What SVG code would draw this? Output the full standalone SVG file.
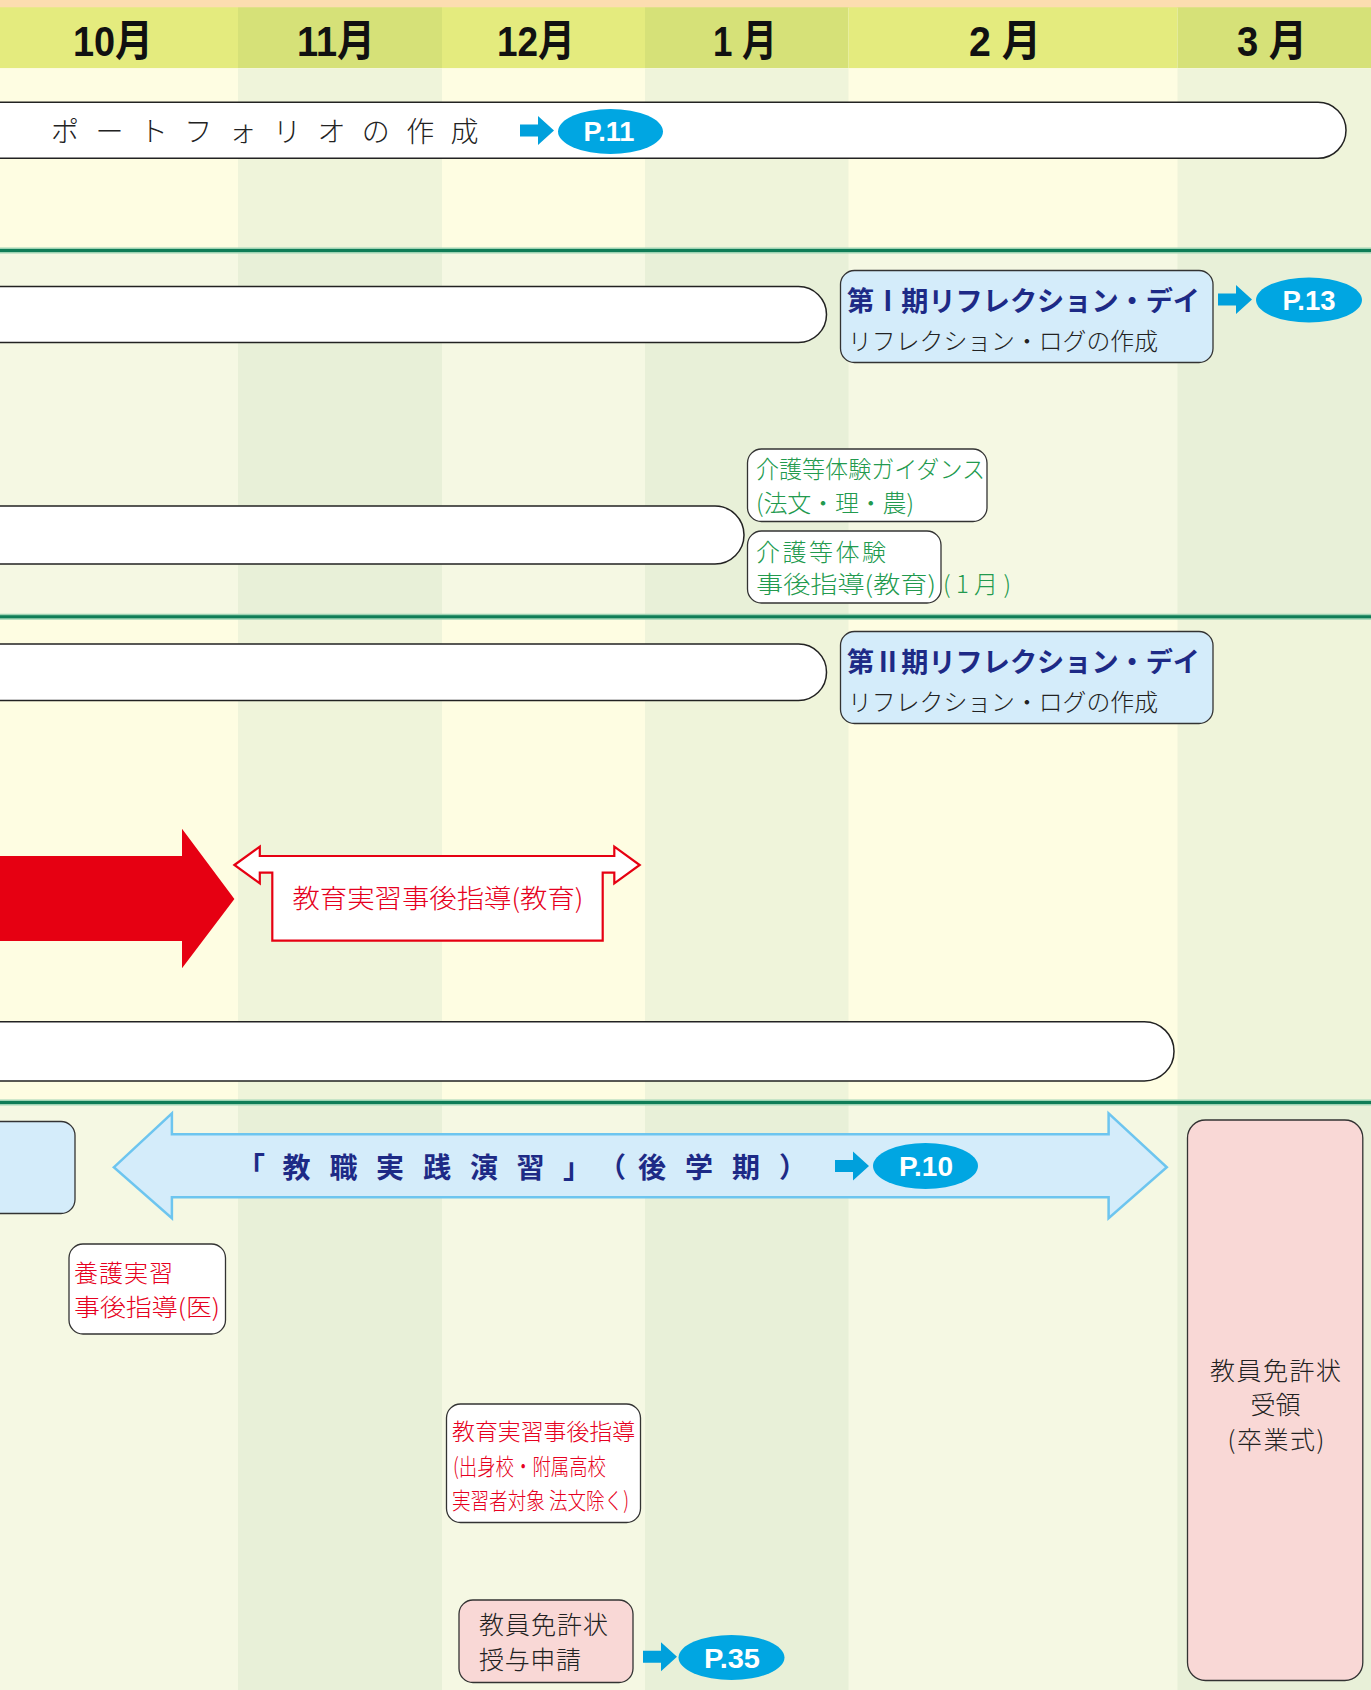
<svg xmlns="http://www.w3.org/2000/svg" width="1371" height="1690" viewBox="0 0 1371 1690">
<style>
.m{font-family:'Liberation Sans','Noto Sans CJK JP',sans-serif;font-weight:700;font-size:43px;fill:#111;text-anchor:middle}
.p{font-family:'Liberation Sans','Noto Sans CJK JP',sans-serif;font-weight:700;font-size:27px;fill:#fff;text-anchor:middle}
.j{font-family:'Noto Sans CJK JP','Noto Sans CJK SC',sans-serif;font-weight:300}
.jb{font-family:'Noto Sans CJK JP','Noto Sans CJK SC',sans-serif;font-weight:700}
.bar{fill:#fff;stroke:#222;stroke-width:1.5}
.box{stroke:#333;stroke-width:1.3}
.blue{fill:#D4ECFA}
.pink{fill:#F9D8D6}
.white{fill:#fff}
.ell{fill:#00A6E2}
.gl{stroke:#0F7D57;stroke-width:3}
.gh{stroke:#9ED3B3;stroke-width:6}
.green{fill:#229A4E}
.red{fill:#E60020}
.navy{fill:#1D2A86}
.dk{fill:#222}
</style>
<defs>
<path id="barrow" d="M0,-6 H18 V-14.5 L34,0 L18,14.5 V6 H0 Z" fill="#00A0DC"/>
</defs>
<g id="background">
<rect x="0" y="0" width="1371" height="8" fill="#FCDDB0"/>
<rect x="0" y="7.3" width="238" height="61" fill="#E4EB7E"/>
<rect x="238" y="7.3" width="204" height="61" fill="#D6E178"/>
<rect x="442" y="7.3" width="203" height="61" fill="#E4EB7E"/>
<rect x="645" y="7.3" width="203.5" height="61" fill="#D6E178"/>
<rect x="848.5" y="7.3" width="329" height="61" fill="#E4EB7E"/>
<rect x="1177.5" y="7.3" width="193.5" height="61" fill="#D6E178"/>
<rect x="0" y="68.3" width="1371" height="182" fill="#FEFDE2"/>
<rect x="238" y="68.3" width="204" height="182" fill="#EFF4DA"/>
<rect x="645" y="68.3" width="203.5" height="182" fill="#EFF4DA"/>
<rect x="1177.5" y="68.3" width="193.5" height="182" fill="#EFF4DA"/>
<rect x="0" y="250" width="1371" height="367" fill="#F5F8E3"/>
<rect x="238" y="250" width="204" height="367" fill="#E8F0D8"/>
<rect x="645" y="250" width="203.5" height="367" fill="#E8F0D8"/>
<rect x="1177.5" y="250" width="193.5" height="367" fill="#E8F0D8"/>
<rect x="0" y="617" width="1371" height="485.5" fill="#FEFDE2"/>
<rect x="238" y="617" width="204" height="485.5" fill="#EFF4DA"/>
<rect x="645" y="617" width="203.5" height="485.5" fill="#EFF4DA"/>
<rect x="1177.5" y="617" width="193.5" height="485.5" fill="#EFF4DA"/>
<rect x="0" y="1102.5" width="1371" height="588" fill="#F5F8E3"/>
<rect x="238" y="1102.5" width="204" height="588" fill="#E8F0D8"/>
<rect x="645" y="1102.5" width="203.5" height="588" fill="#E8F0D8"/>
<rect x="1177.5" y="1102.5" width="193.5" height="588" fill="#E8F0D8"/>
<line class="gh" x1="0" y1="250.5" x2="1371" y2="250.5"/>
<line class="gl" x1="0" y1="250.5" x2="1371" y2="250.5"/>
<line class="gh" x1="0" y1="616.8" x2="1371" y2="616.8"/>
<line class="gl" x1="0" y1="616.8" x2="1371" y2="616.8"/>
<line class="gh" x1="0" y1="1102.6" x2="1371" y2="1102.6"/>
<line class="gl" x1="0" y1="1102.6" x2="1371" y2="1102.6"/>
</g>
<g id="months">
<text class="m" x="113" y="56" textLength="80" lengthAdjust="spacingAndGlyphs">10月</text>
<text class="m" x="336" y="56" textLength="78" lengthAdjust="spacingAndGlyphs">11月</text>
<text class="m" x="536" y="56" textLength="78" lengthAdjust="spacingAndGlyphs">12月</text>
<text class="m" x="745" y="56" textLength="64" lengthAdjust="spacingAndGlyphs">1 月</text>
<text class="m" x="1005" y="56" textLength="72" lengthAdjust="spacingAndGlyphs">2 月</text>
<text class="m" x="1272" y="56" textLength="70" lengthAdjust="spacingAndGlyphs">3 月</text>
</g>
<g id="portfolio">
<rect class="bar" x="-60" y="102.3" width="1406" height="56" rx="28"/>
<text class="j dk" font-size="28" y="141.6" x="51 95.4 139.8 184.2 228.6 273 317.4 361.8 406.2 450.6">ポートフォリオの作成</text>
<ellipse class="ell" cx="610.5" cy="131.5" rx="52.5" ry="22.5"/>
<text class="p" x="609" y="141" textLength="51" lengthAdjust="spacingAndGlyphs">P.11</text>
</g>
<g id="bar-b1">
<rect class="bar" x="-60" y="286.5" width="886.5" height="56" rx="28"/>
</g>
<g id="reflection-1">
<rect class="box blue" x="840.5" y="270.5" width="372.5" height="92" rx="14"/>
<text class="jb navy" font-size="27.5" x="847" y="311" textLength="353" lengthAdjust="spacingAndGlyphs">第Ⅰ期リフレクション・デイ</text>
<text class="j dk" font-size="23.5" x="848" y="350" textLength="310" lengthAdjust="spacingAndGlyphs">リフレクション・ログの作成</text>
<ellipse class="ell" cx="1309" cy="300" rx="53" ry="22.5"/>
<text class="p" x="1309" y="310" textLength="53" lengthAdjust="spacingAndGlyphs">P.13</text>
</g>
<g id="bar-b2">
<rect class="bar" x="-60" y="506" width="804" height="58" rx="29"/>
</g>
<g id="kaigo-guidance">
<rect class="box white" x="747.5" y="449" width="239.5" height="72.5" rx="14"/>
<text class="j green" font-size="24" x="756" y="478" textLength="229" lengthAdjust="spacingAndGlyphs">介護等体験ガイダンス</text>
<text class="j green" font-size="24" x="756" y="512" textLength="158">(法文・理・農)</text>
</g>
<g id="kaigo-shido">
<rect class="box white" x="747.5" y="531" width="193.5" height="72" rx="14"/>
<text class="j green" font-size="24" x="756" y="561" textLength="130">介護等体験</text>
<text class="j green" font-size="24" x="756" y="593" textLength="180" lengthAdjust="spacingAndGlyphs">事後指導(教育)</text>
<text class="j green" font-size="24" x="943" y="593" textLength="68">(1月)</text>
</g>
<g id="bar-a2">
<rect class="bar" x="-60" y="644" width="886.5" height="56.5" rx="28"/>
</g>
<g id="reflection-2">
<rect class="box blue" x="840.5" y="631.5" width="372.5" height="92" rx="14"/>
<text class="jb navy" font-size="27.5" x="847" y="672" textLength="353" lengthAdjust="spacingAndGlyphs">第Ⅱ期リフレクション・デイ</text>
<text class="j dk" font-size="23.5" x="848" y="711" textLength="310" lengthAdjust="spacingAndGlyphs">リフレクション・ログの作成</text>
</g>
<g id="red-arrow">
<polygon points="-10,856 182,856 182,828.7 234.4,899 182,968.3 182,941 -10,941" fill="#E60012"/>
</g>
<g id="kyoiku-jisshu-shido">
<polygon points="234.4,865 259.8,846.7 259.8,856 614.3,856 614.3,846.7 639.7,865 614.3,883.3 614.3,872.7 602.7,872.7 602.7,940.7 272.3,940.7 272.3,872.7 259.8,872.7 259.8,883.3" fill="#fff" stroke="#E60012" stroke-width="2.2" stroke-linejoin="miter"/>
<text class="j red" font-size="26" x="292.5" y="907.5" textLength="291" lengthAdjust="spacingAndGlyphs">教育実習事後指導(教育)</text>
</g>
<g id="bar-a2b">
<rect class="bar" x="-60" y="1021.7" width="1234" height="59.3" rx="29.6"/>
</g>
<g id="left-blue-box">
<rect class="box blue" x="-30" y="1121.5" width="105" height="92" rx="14"/>
</g>
<g id="kyoshoku-jissen">
<polygon points="113.8,1167.3 171.9,1113.3 171.9,1134.3 1108.6,1134.3 1108.6,1113.3 1166.8,1167.3 1108.6,1218.3 1108.6,1197.3 171.9,1197.3 171.9,1218.3" fill="#D4ECFA" stroke="#6DC5EF" stroke-width="2.5"/>
<text class="jb navy" font-size="28" y="1178" x="237 282.5 329.5 376 423 470 516.5 563 598 638 685 732 779">「教職実践演習」（後学期）</text>
<ellipse class="ell" cx="925.5" cy="1166" rx="52.5" ry="23"/>
<text class="p" x="926" y="1176" textLength="54" lengthAdjust="spacingAndGlyphs">P.10</text>
</g>
<g id="yogo">
<rect class="box white" x="69" y="1244" width="156.5" height="90" rx="14"/>
<text class="j red" font-size="24" x="74" y="1282" textLength="99">養護実習</text>
<text class="j red" font-size="24" x="74" y="1316" textLength="146" lengthAdjust="spacingAndGlyphs">事後指導(医)</text>
</g>
<g id="menkyo-juryo">
<rect class="box pink" x="1187.5" y="1120" width="175.3" height="560.5" rx="18"/>
<text class="j dk" font-size="25" x="1275.5" y="1380" text-anchor="middle" textLength="131">教員免許状</text>
<text class="j dk" font-size="25" x="1275.5" y="1413.5" text-anchor="middle">受領</text>
<text class="j dk" font-size="25" x="1276" y="1449" text-anchor="middle" textLength="97">(卒業式)</text>
</g>
<g id="kyoiku-shido-shusshin">
<rect class="box white" x="446.5" y="1404" width="194" height="118.5" rx="14"/>
<text class="j red" font-size="23" x="452" y="1439.5" textLength="183" lengthAdjust="spacingAndGlyphs">教育実習事後指導</text>
<text class="j red" font-size="23" x="453" y="1474.5" textLength="153" lengthAdjust="spacingAndGlyphs">(出身校・附属高校</text>
<text class="j red" font-size="23" x="452" y="1509" textLength="177" lengthAdjust="spacingAndGlyphs">実習者対象 法文除く)</text>
</g>
<g id="menkyo-shinsei">
<rect class="box pink" x="459" y="1600" width="174" height="82.5" rx="14"/>
<text class="j dk" font-size="25" x="479" y="1634" textLength="129">教員免許状</text>
<text class="j dk" font-size="25" x="479" y="1668.5" textLength="102">授与申請</text>
<ellipse class="ell" cx="731.5" cy="1657.5" rx="53" ry="22.5"/>
<text class="p" x="732" y="1667.5" textLength="56" lengthAdjust="spacingAndGlyphs">P.35</text>
</g>
<g id="connectors">
<use href="#barrow" transform="translate(520,130.5)"/>
<use href="#barrow" transform="translate(1218,299.5)"/>
<use href="#barrow" transform="translate(835,1166)"/>
<use href="#barrow" transform="translate(643,1656.7)"/>
</g>
</svg>
